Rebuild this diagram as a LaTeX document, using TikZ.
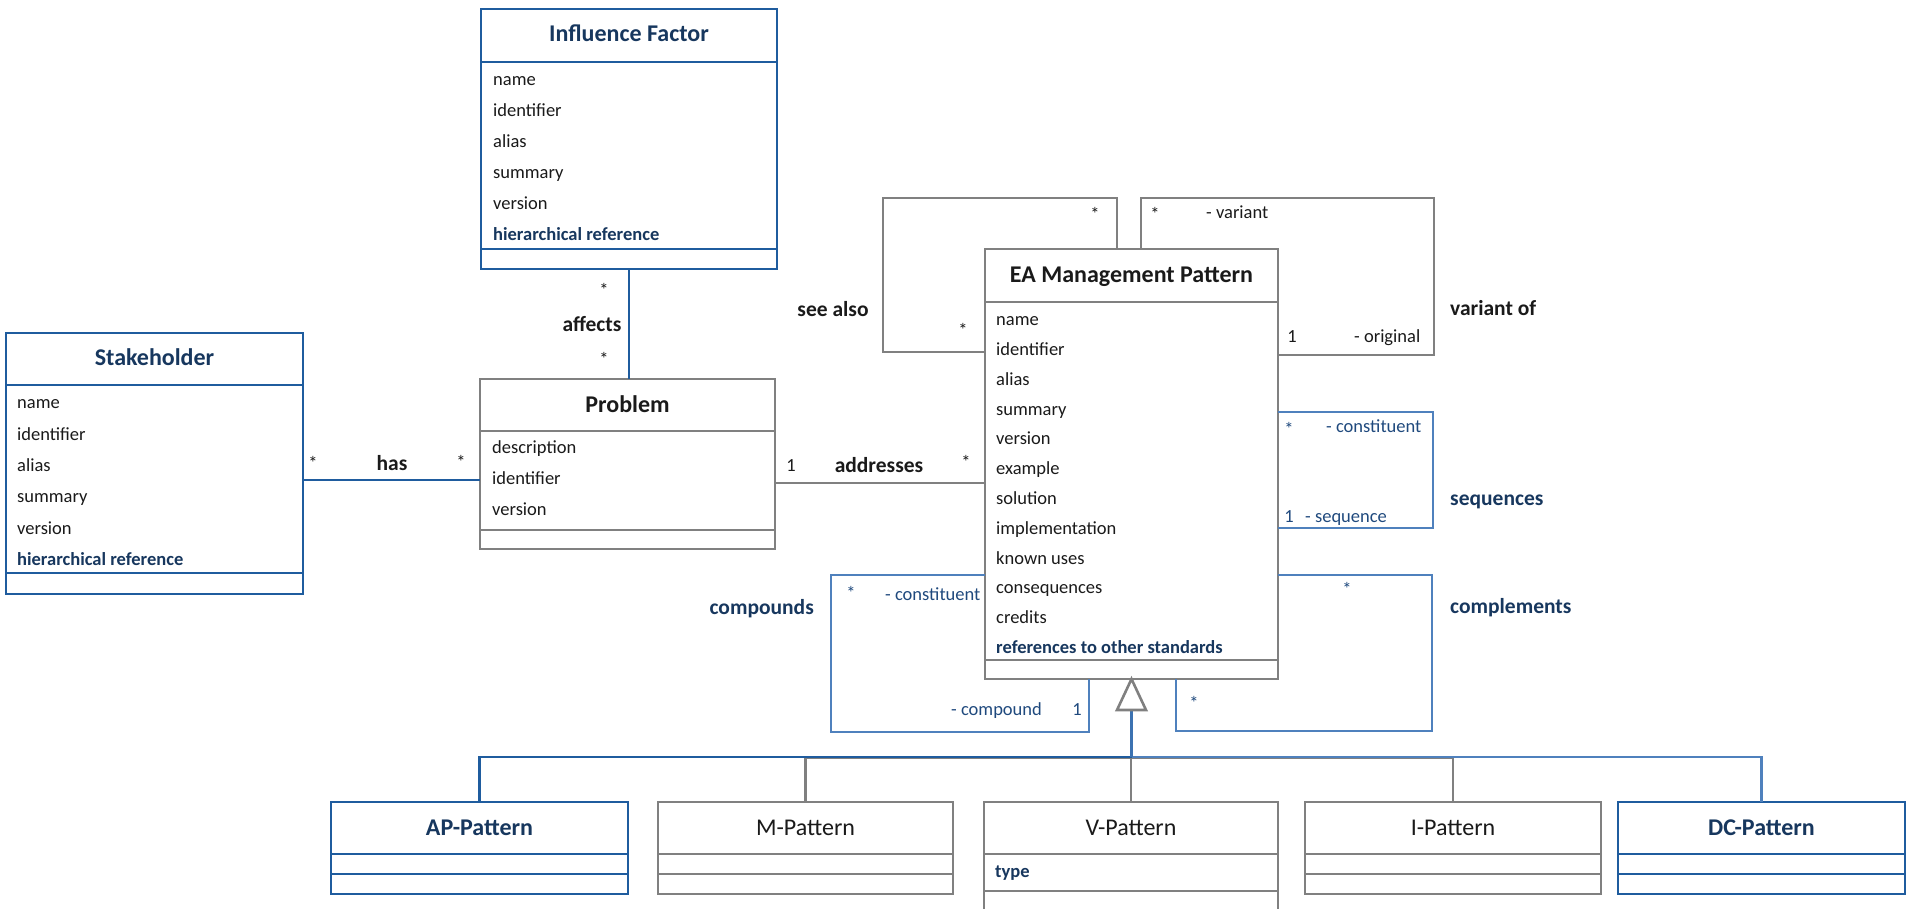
\documentclass[tikz,border=0pt]{standalone}
\usepackage{fontspec}
\setmainfont{Carlito}
\usetikzlibrary{calc}

\definecolor{navy}{HTML}{17375E}
\definecolor{boxblue}{HTML}{1F5C9E}
\definecolor{loopblue}{HTML}{4F81BD}
\definecolor{looptext}{HTML}{1F497D}
\definecolor{boxgray}{HTML}{808080}
\definecolor{ink}{HTML}{1A1A1A}

\newcommand{\attrsize}{\fontsize{18.5}{22}\selectfont}
\newcommand{\titlesize}{\fontsize{24}{28}\selectfont}
\newcommand{\assocsize}{\fontsize{21.5}{25}\selectfont\bfseries}

% UML class frame: name, colour, x, y, width, height, header depth, attribute depth
\newcommand{\umlclass}[8]{%
  \node[box, draw=#2, minimum width=#5pt, minimum height=#6pt] (#1) at (#3,#4) {};
  \draw[#2, line width=2.6pt] ([yshift=-#7pt]#1.north west) -- ([yshift=-#7pt]#1.north east);
  \draw[#2, line width=2.6pt] ([yshift=-#8pt]#1.north west) -- ([yshift=-#8pt]#1.north east);
}

\begin{document}
\begin{tikzpicture}[x=1pt, y=-1pt,
  box/.style={draw, line width=2.6pt, fill=white, anchor=north west, inner sep=0pt, outer sep=0pt},
  ttl/.style={inner sep=0pt, font=\titlesize\bfseries, text height=17pt, text depth=5pt},
  ttlr/.style={ttl, font=\titlesize},
  attr/.style={anchor=west, inner sep=0pt, font=\attrsize, text=ink, text height=13pt, text depth=3.7pt},
  battr/.style={attr, text=navy, font=\attrsize\bfseries},
  mult/.style={inner sep=0pt, font=\attrsize, text=ink},
  bmult/.style={mult, text=looptext},
  role/.style={attr},
  brole/.style={attr, text=looptext},
  assoc/.style={inner sep=0pt, font=\assocsize, text=ink, text height=15pt, text depth=4.3pt},
  bassoc/.style={assoc, text=navy},
  gline/.style={draw=boxgray, line width=2.6pt},
  bline/.style={draw=boxblue, line width=2.6pt},
  lline/.style={draw=loopblue, line width=2.6pt},
]
\clip (0,0) rectangle (1907,909);

% ---------- classes ----------
\umlclass{inf}{boxblue}{481}{9}{296}{260}{53}{240}
\umlclass{stake}{boxblue}{6}{333}{297}{261}{52}{240}
\umlclass{prob}{boxgray}{480}{379}{295}{170}{52}{151}
\umlclass{ea}{boxgray}{985}{249}{293}{430}{53}{411}
\umlclass{ap}{boxblue}{331}{802}{297}{92}{52}{72}
\umlclass{mp}{boxgray}{658}{802}{295}{92}{52}{72}
\umlclass{vp}{boxgray}{984}{802}{294}{140}{52}{89}
\umlclass{ip}{boxgray}{1305}{802}{296}{92}{52}{72}
\umlclass{dc}{boxblue}{1618}{802}{287}{92}{52}{72}

% Influence Factor
\node[ttl, text=navy] (inf-t) at (629,35.5) {Influence Factor};
\foreach \lbl [count=\i] in {name,identifier,alias,summary,version}
  \node[attr] (inf-\i) at (493,{81+31*(\i-1)}) {\lbl};
\node[battr] (inf-6) at (493,236) {hierarchical reference};

% Stakeholder
\node[ttl, text=navy] (stake-t) at (154.5,360) {Stakeholder};
\foreach \lbl [count=\i] in {name,identifier,alias,summary,version}
  \node[attr] (stake-\i) at (17,{404+31.4*(\i-1)}) {\lbl};
\node[battr] (stake-6) at (17,561) {hierarchical reference};

% Problem
\node[ttl, text=ink] (prob-t) at (627.5,406) {Problem};
\foreach \lbl [count=\i] in {description,identifier,version}
  \node[attr] (prob-\i) at (492,{449+31*(\i-1)}) {\lbl};

% EA Management Pattern
\node[ttl, text=ink] (ea-t) at (1131.5,276.5) {EA Management Pattern};
\foreach \lbl [count=\i] in {name,identifier,alias,summary,version,example,solution,implementation,known uses,consequences,credits}
  \node[attr] (ea-\i) at (996,{321+29.8*(\i-1)}) {\lbl};
\node[battr] (ea-12) at (996,649) {references to other standards};

% pattern kinds
\node[ttl, text=navy] (ap-t) at (479.5,829) {AP-Pattern};
\node[ttlr, text=ink] (mp-t) at (805.5,829) {M-Pattern};
\node[ttlr, text=ink] (vp-t) at (1131,829) {V-Pattern};
\node[battr] (vp-1) at (995,873) {type};
\node[ttlr, text=ink] (ip-t) at (1453,829) {I-Pattern};
\node[ttl, text=navy] (dc-t) at (1761.5,829) {DC-Pattern};

% ---------- associations ----------
% has
\draw[bline] ([yshift=-147pt]stake.north east) -- ([yshift=-101pt]prob.north west);
\node[mult] (has-m1) at (313,463) {*};
\node[assoc] (has-l) at (392,465) {has};
\node[mult] (has-m2) at (461,462) {*};

% affects
\draw[bline] (inf.south) -- (inf.south |- prob.north);
\node[mult] (aff-m1) at (604,290) {*};
\node[assoc] (aff-l) at (592,326) {affects};
\node[mult] (aff-m2) at (604,359) {*};

% addresses
\draw[gline] ([yshift=-104pt]prob.north east) -- ([yshift=-234pt]ea.north west);
\node[role, anchor=center] (adr-m1) at (791,467) {1};
\node[assoc] (adr-l) at (879,467) {addresses};
\node[mult] (adr-m2) at (966,462) {*};

% see also
\draw[gline] ([yshift=-103pt]ea.north west) -| ([xshift=-102pt,yshift=51pt]ea.north west)
  -| ([xshift=132pt]ea.north west);
\node[mult] (see-m1) at (1095,214) {*};
\node[mult] (see-m2) at (963,330) {*};
\node[assoc] (see-l) at (833,311) {see also};

% variant of
\draw[gline] ([xshift=156pt]ea.north west) |- ([xshift=449pt,yshift=51pt]ea.north west)
  |- ([yshift=-106pt]ea.north east);
\node[mult] (var-m1) at (1155,214) {*};
\node[role] (var-r1) at (1206,214) {- variant};
\node[role, anchor=center] (var-m2) at (1292,338) {1};
\node[role] (var-r2) at (1354,338) {- original};
\node[assoc, anchor=west] (var-l) at (1450,310) {variant of};

% sequences
\draw[lline] ([yshift=-163pt]ea.north east) -| ([xshift=155pt,yshift=-279pt]ea.north east)
  -- ([yshift=-279pt]ea.north east);
\node[bmult] (seq-m1) at (1289,429) {*};
\node[brole] (seq-r1) at (1326,428) {- constituent};
\node[brole, anchor=center] (seq-m2) at (1289,518) {1};
\node[brole] (seq-r2) at (1305,518) {- sequence};
\node[bassoc, anchor=west] (seq-l) at (1450,500) {sequences};

% complements
\draw[lline] ([yshift=-326pt]ea.north east) -| ([xshift=154pt,yshift=-52pt]ea.south east)
  -| ([xshift=191pt]ea.south west);
\node[bmult] (cmp-m1) at (1347,589) {*};
\node[bmult] (cmp-m2) at (1194,703) {*};
\node[bassoc, anchor=west] (cmp-l) at (1450,608) {complements};

% compounds
\draw[lline] ([yshift=-326pt]ea.north west) -| ([xshift=-154pt,yshift=-53pt]ea.south west)
  -| ([xshift=104pt]ea.south west);
\node[bmult] (cpd-m1) at (851,593) {*};
\node[brole] (cpd-r1) at (885,596) {- constituent};
\node[brole] (cpd-r2) at (951,711) {- compound};
\node[brole, anchor=center] (cpd-m2) at (1077,711) {1};
\node[bassoc, anchor=east] (cpd-l) at (814,609) {compounds};

% ---------- generalization ----------
\coordinate (gbase) at ([yshift=-31pt]ea.south);
\coordinate (bus) at ([yshift=-78pt]ea.south);
\coordinate (busg) at ([yshift=-1pt]bus);
\draw[gline] (mp.north |- busg) -- (ip.north |- busg);
\draw[gline] (mp.north |- bus) -- (mp.north);
\draw[gline] (ip.north |- bus) -- (ip.north);
\draw[gline] (vp.north |- bus) -- (vp.north);
\draw[bline] (bus) -| (ap.north);
\draw[lline] (bus) -| (dc.north);
\draw[line width=2.6pt, draw=loopblue!60!boxblue] (gbase) -- (bus);
\draw[gline, fill=white] (ea.south) -- ([xshift=-14.5pt]gbase) -- ([xshift=14.5pt]gbase) -- cycle;
\end{tikzpicture}
\end{document}
